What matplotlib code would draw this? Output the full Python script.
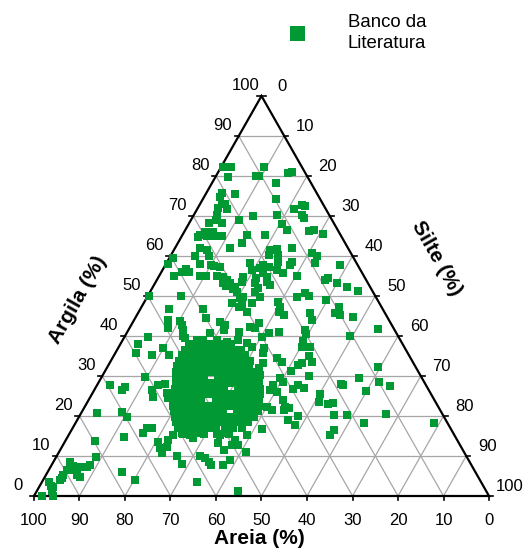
import numpy as np
import matplotlib.pyplot as plt

plt.rcParams['font.family'] = ['Liberation Sans', 'DejaVu Sans']

# composição granulométrica (%) de cada amostra: argila e silte; areia = 100 - argila - silte
argila = [
    82.2, 82.2, 79.8, 82.2, 80.1, 80.1, 80.7, 80.9, 78.3, 75.7, 74.8, 75.5, 74.3, 73.0, 73.0, 71.9,
    71.7, 70.2, 69.0, 69.0, 70.0, 70.3, 71.8, 72.8, 72.5, 70.3, 69.6, 68.2, 68.2, 67.9, 66.5, 66.3,
    66.5, 65.4, 66.1, 65.3, 64.8, 65.0, 66.1, 65.0, 65.0, 65.0, 65.3, 65.3, 63.3, 62.1, 62.1, 61.5,
    60.0, 60.0, 61.5, 61.7, 60.3, 60.3, 62.1, 60.7, 60.0, 59.4, 57.9, 58.0, 57.8, 57.5, 57.3, 56.1,
    56.1, 56.7, 55.1, 55.0, 55.1, 55.0, 54.8, 54.0, 53.2, 52.3, 53.2, 52.5, 51.1, 51.7, 49.4, 50.0,
    50.0, 48.2, 47.3, 46.1, 46.7, 46.7, 44.4, 44.0, 43.8, 42.8, 41.5, 41.9, 43.6, 42.8, 41.5, 41.1,
    40.7, 40.0, 39.4, 39.0, 39.7, 37.9, 37.1, 39.0, 39.0, 38.2, 37.8, 39.0, 37.8, 38.6, 58.2, 56.5,
    58.6, 57.8, 57.3, 56.9, 57.8, 58.6, 56.5, 55.8, 55.0, 58.3, 57.8, 54.8, 53.6, 54.4, 53.2, 51.9,
    51.1, 49.8, 53.6, 52.8, 55.7, 54.8, 54.0, 54.4, 53.3, 52.3, 51.3, 50.8, 50.0, 49.8, 49.0, 49.8,
    47.8, 48.2, 48.6, 47.3, 46.1, 45.3, 45.7, 44.0, 47.3, 45.3, 45.7, 44.8, 43.3, 42.2, 41.9, 41.5,
    40.6, 40.7, 41.1, 39.7, 38.8, 40.0, 38.2, 37.3, 37.3, 37.3, 36.9, 41.8, 32.2, 29.4, 28.6, 27.5,
    27.8, 26.3, 20.3, 20.5, 18.3, 18.2, 35.8, 34.4, 33.6, 31.3, 33.2, 31.9, 30.7, 30.3, 29.4, 28.6,
    26.7, 27.8, 26.5, 26.1, 24.0, 22.3, 22.3, 21.5, 19.0, 17.8, 16.7, 15.3, 35.0, 33.6, 32.8, 33.2,
    30.0, 27.8, 26.9, 27.9, 25.4, 23.6, 23.0, 23.3, 21.9, 21.5, 20.0, 20.3, 16.5, 15.3, 35.8, 35.3,
    35.3, 29.8, 27.3, 26.5, 27.8, 27.9, 26.5, 24.8, 25.7, 24.4, 21.1, 19.8, 16.9, 16.9, 15.7, 27.8,
    20.7, 13.8, 14.8, 9.7, 8.6, 7.5, 6.5, 6.5, 7.2, 5.3, 4.8, 7.3, 7.8, 5.3, 4.4, 4.0,
    3.6, 2.5, 2.3, 1.3, 0.0, 0.0, 6.1, 4.0, 3.6, 1.3, 13.6, 11.9, 10.8, 12.3, 14.0, 10.0,
    7.9, 15.3, 15.7, 16.1, 15.3, 15.7, 16.1, 10.0, 9.4, 8.6, 7.8, 14.4, 11.5, 15.3, 15.7, 14.0,
    12.8, 12.8, 13.2, 11.1, 9.0, 7.8,
    # núcleo denso de amostras
    38.0, 38.0, 38.0, 38.0, 38.0, 38.0, 38.0,
    36.6, 36.6, 36.6, 36.6, 36.6, 36.6, 36.6, 36.6, 36.6,
    35.2, 35.2, 35.2, 35.2, 35.2, 35.2, 35.2, 35.2, 35.2, 35.2,
    33.8, 33.8, 33.8, 33.8, 33.8, 33.8, 33.8, 33.8, 33.8, 33.8, 33.8,
    32.4, 32.4, 32.4, 32.4, 32.4, 32.4, 32.4, 32.4, 32.4, 32.4, 32.4,
    31.0, 31.0, 31.0, 31.0, 31.0, 31.0, 31.0, 31.0, 31.0, 31.0, 31.0, 31.0,
    29.6, 29.6, 29.6, 29.6, 29.6, 29.6, 29.6, 29.6, 29.6, 29.6, 29.6,
    28.2, 28.2, 28.2, 28.2, 28.2, 28.2, 28.2, 28.2, 28.2, 28.2, 28.2, 28.2, 28.2,
    26.8, 26.8, 26.8, 26.8, 26.8, 26.8, 26.8, 26.8, 26.8, 26.8, 26.8, 26.8,
    25.4, 25.4, 25.4, 25.4, 25.4, 25.4, 25.4, 25.4, 25.4, 25.4, 25.4, 25.4, 25.4,
    24.0, 24.0, 24.0, 24.0, 24.0, 24.0, 24.0, 24.0, 24.0, 24.0, 24.0, 24.0,
    22.6, 22.6, 22.6, 22.6, 22.6, 22.6, 22.6, 22.6, 22.6, 22.6, 22.6, 22.6, 22.6,
    21.2, 21.2, 21.2, 21.2, 21.2, 21.2, 21.2, 21.2, 21.2, 21.2, 21.2, 21.2,
    19.8, 19.8, 19.8, 19.8, 19.8, 19.8, 19.8, 19.8, 19.8, 19.8, 19.8, 19.8,
    18.4, 18.4, 18.4, 18.4, 18.4, 18.4, 18.4, 18.4, 18.4, 18.4, 18.4,
    17.0, 17.0, 17.0, 17.0, 17.0, 17.0, 17.0, 17.0, 17.0,
    15.6, 15.6, 15.6, 15.6, 15.6,
]
silte = [
    0.4, 2.3, 2.7, 9.5, 8.7, 9.5, 15.5, 16.2, 14.0, 3.4, 3.5, 6.5, 16.0, 4.8, 5.5, 4.5,
    6.5, 5.2, 5.5, 10.6, 13.2, 18.2, 21.2, 22.4, 23.3, 23.7, 24.5, 7.3, 4.4, 20.6, 22.4, 27.2,
    28.2, 30.9, 4.5, 3.9, 3.7, 5.5, 6.4, 7.1, 8.0, 8.9, 14.2, 18.2, 14.0, 12.0, 5.4, 7.2,
    5.4, 8.5, 21.1, 22.5, 21.4, 23.5, 25.6, 30.7, 32.1, 0.9, 0.6, 7.5, 9.9, 10.9, 12.3, 4.4,
    6.1, 5.1, 3.3, 9.0, 10.3, 12.7, 14.2, 15.4, 16.5, 18.1, 15.0, 16.0, 19.0, 17.9, 20.6, 0.3,
    7.3, 19.4, 21.3, 23.7, 6.3, 13.8, 15.6, 7.5, 10.2, 11.1, 12.1, 8.5, 19.1, 20.6, 20.9, 24.4,
    18.4, 12.8, 13.5, 25.4, 5.1, 4.0, 9.9, 16.3, 17.7, 17.4, 19.1, 20.7, 22.0, 23.1, 18.4, 19.6,
    24.4, 21.5, 22.9, 21.3, 27.4, 27.3, 25.1, 26.9, 30.2, 32.6, 38.4, 18.6, 18.9, 21.7, 22.0, 23.3,
    23.0, 24.8, 24.3, 25.5, 22.5, 23.7, 37.0, 37.5, 39.9, 42.7, 45.6, 34.2, 35.5, 32.8, 39.7, 21.1,
    21.8, 23.8, 29.4, 30.5, 30.7, 32.2, 37.9, 39.0, 43.3, 44.7, 43.4, 47.8, 27.7, 26.4, 27.7, 38.9,
    39.5, 31.4, 33.2, 30.2, 39.8, 49.5, 27.7, 29.3, 40.2, 42.0, 32.0, 54.6, 59.6, 56.8, 61.6, 64.5,
    54.0, 59.9, 58.6, 67.2, 63.4, 78.9, 32.4, 36.1, 37.6, 40.8, 33.8, 33.4, 33.2, 34.5, 39.4, 40.5,
    43.6, 38.7, 38.6, 40.3, 42.8, 44.0, 40.0, 41.5, 46.4, 48.5, 41.7, 39.2, 43.0, 44.2, 41.7, 42.2,
    45.5, 44.2, 45.8, 53.5, 50.2, 50.9, 53.2, 54.0, 45.0, 44.1, 48.1, 55.7, 57.6, 57.4, 4.5, 8.3,
    12.1, 9.5, 6.4, 6.1, 13.4, 14.9, 12.7, 13.8, 16.3, 17.3, 8.8, 10.5, 16.4, 17.5, 16.2, 2.8,
    3.6, 6.5, 12.4, 8.8, 3.6, 4.9, 4.0, 5.1, 6.5, 6.8, 7.7, 8.0, 8.4, 3.8, 3.9, 3.7,
    1.6, 2.5, 3.1, 3.3, 1.7, 4.1, 16.3, 20.2, 34.1, 44.1, 20.5, 21.8, 22.7, 23.0, 22.5, 26.4,
    28.5, 23.0, 24.6, 25.5, 26.6, 28.0, 28.8, 31.5, 32.9, 34.2, 35.0, 27.8, 35.9, 33.3, 34.6, 37.2,
    38.5, 37.1, 33.9, 41.1, 38.6, 37.7,
    # núcleo denso de amostras
    15.0, 16.6, 18.1, 19.7, 21.2, 22.8, 24.4,
    14.8, 16.3, 17.9, 19.4, 21.0, 22.5, 24.1, 25.6, 27.2,
    14.9, 16.4, 18.0, 19.5, 21.1, 22.6, 24.2, 25.7, 27.3, 28.8,
    15.0, 16.5, 18.1, 19.6, 21.2, 22.7, 24.3, 25.8, 27.4, 29.0, 30.5,
    15.3, 16.9, 18.4, 20.0, 21.5, 23.1, 24.6, 26.2, 27.7, 29.3, 31.0,
    15.8, 17.3, 18.9, 20.4, 22.0, 23.5, 25.1, 26.6, 28.2, 29.7, 31.3, 32.9,
    16.3, 17.8, 19.4, 20.9, 22.5, 25.6, 27.1, 28.7, 30.2, 31.8, 33.5,
    17.0, 18.5, 20.1, 21.6, 23.2, 24.7, 26.3, 27.8, 29.4, 30.9, 32.5, 34.0, 35.3,
    17.6, 19.1, 20.7, 22.2, 23.8, 25.3, 26.9, 28.4, 31.5, 33.1, 34.7, 36.2,
    18.2, 19.7, 21.3, 22.8, 24.4, 25.9, 27.5, 29.0, 30.6, 32.1, 33.7, 35.3, 37.0,
    18.6, 20.1, 21.7, 23.2, 24.8, 27.9, 29.4, 31.0, 32.5, 34.1, 35.7, 37.5,
    19.3, 20.8, 22.4, 23.9, 25.5, 27.0, 28.6, 30.1, 31.7, 33.2, 34.8, 36.4, 38.1,
    20.2, 21.7, 23.3, 24.8, 26.4, 27.9, 29.5, 31.0, 34.1, 35.7, 37.3, 38.6,
    21.1, 22.6, 24.2, 25.7, 27.3, 28.8, 30.4, 31.9, 33.5, 35.0, 36.6, 38.4,
    22.0, 23.5, 25.1, 26.6, 28.2, 29.7, 31.3, 32.8, 34.4, 36.0, 37.8,
    23.2, 24.8, 26.5, 28.2, 29.9, 31.6, 33.4, 35.2, 37.2,
    25.0, 27.2, 29.6, 32.4, 35.0,
]
ticks = list(range(0, 101, 10))
verde = '#009933'

H = np.sqrt(3) / 2


def xy(arg, sil):
    # argila no topo, areia no vértice esquerdo, silte no direito
    arg = np.asarray(arg, float)
    sil = np.asarray(sil, float)
    return sil + arg / 2, arg * H


fig = plt.figure(figsize=(5.26, 5.5), dpi=100)
ax = fig.add_axes([0, 0, 1, 1])
ax.set_xlim(-7.47, 108.13)
ax.set_ylim(-11.69, 107.38)
ax.axis('off')

# grade
for k in range(10, 100, 10):
    ax.plot(*xy([k, k], [0, 100 - k]), color='#a6a6a6', lw=0.9, zorder=1)
    ax.plot(*xy([0, 100 - k], [k, k]), color='#a6a6a6', lw=0.9, zorder=1)
    ax.plot(*xy([0, 100 - k], [100 - k, 0]), color='#a6a6a6', lw=0.9, zorder=1)

# contorno do triângulo
ax.plot(*xy([0, 0, 100, 0], [0, 100, 0, 0]), color='black', lw=1.6, zorder=3,
        solid_joinstyle='miter')

tl = 0.9
for k in ticks:
    # Argila (lado esquerdo)
    x, y = xy(k, 0)
    ax.plot([x - tl, x], [y, y], color='black', lw=1.2, zorder=3)
    ax.text(x - 3.5, y + 2.2, str(k), ha='center', va='center', fontsize=12)
    # Silte (lado direito)
    x, y = xy(100 - k, k)
    ax.plot([x, x + tl], [y, y], color='black', lw=1.2, zorder=3)
    ax.text(x + 4.6, y + 2.0, str(k), ha='center', va='center', fontsize=12)
    # Areia (base)
    x, y = xy(0, 100 - k)
    ax.plot([x, x], [y, y - tl], color='black', lw=1.2, zorder=3)
    ax.text(x, y - 5.2, str(k), ha='center', va='center', fontsize=12)

ax.text(49.45, -9.1, 'Areia (%)', ha='center', va='center', fontsize=15, fontweight='bold')
ax.text(9.67, 42.4, 'Argila (%)', ha='center', va='center', fontsize=15, fontweight='bold',
        rotation=60.4, rotation_mode='anchor')
ax.text(88.6, 51.5, 'Silte (%)', ha='center', va='center', fontsize=15, fontweight='bold',
        rotation=-60.4, rotation_mode='anchor')

px, py = xy(argila, silte)
ax.plot(px, py, linestyle='none', marker='s', markersize=5.5, color=verde,
        markeredgewidth=0, zorder=4, clip_on=False)

# legenda
ax.plot([57.8], [100.2], linestyle='none', marker='s', markersize=10.8, color=verde,
        markeredgewidth=0, clip_on=False)
ax.text(69.0, 100.2, 'Banco da\nLiteratura', ha='left', va='center', fontsize=13.4,
        linespacing=1.3)

fig.savefig('out.png', dpi=100)
